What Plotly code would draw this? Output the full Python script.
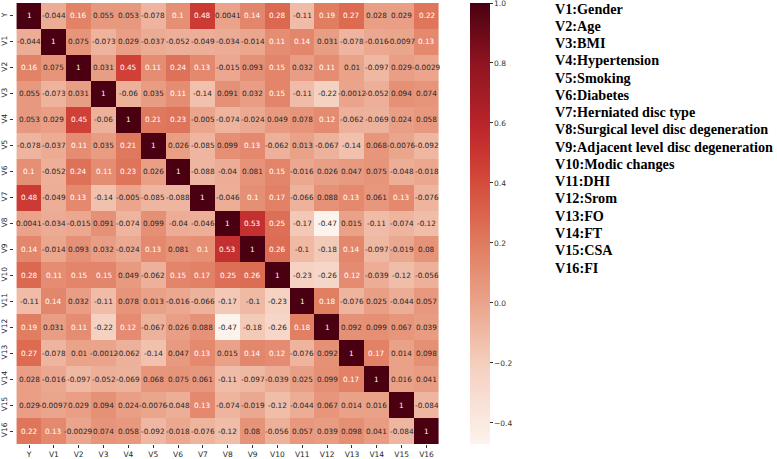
import plotly.graph_objects as go

labels = ["Y", "V1", "V2", "V3", "V4", "V5", "V6", "V7", "V8", "V9", "V10",
          "V11", "V12", "V13", "V14", "V15", "V16"]

row_Y   = [1, -0.044, 0.16, 0.055, 0.053, -0.078, 0.1, 0.48, 0.0041, 0.14, 0.28, -0.11, 0.19, 0.27, 0.028, 0.029, 0.22]
row_V1  = [-0.044, 1, 0.075, -0.073, 0.029, -0.037, -0.052, -0.049, -0.034, -0.014, 0.11, 0.14, 0.031, -0.078, -0.016, -0.0097, 0.13]
row_V2  = [0.16, 0.075, 1, 0.031, 0.45, 0.11, 0.24, 0.13, -0.015, 0.093, 0.15, 0.032, 0.11, 0.01, -0.097, 0.029, -0.0029]
row_V3  = [0.055, -0.073, 0.031, 1, -0.06, 0.035, 0.11, -0.14, 0.091, 0.032, 0.15, -0.11, -0.22, -0.0012, -0.052, 0.094, 0.074]
row_V4  = [0.053, 0.029, 0.45, -0.06, 1, 0.21, 0.23, -0.005, -0.074, -0.024, 0.049, 0.078, 0.12, -0.062, -0.069, 0.024, 0.058]
row_V5  = [-0.078, -0.037, 0.11, 0.035, 0.21, 1, 0.026, -0.085, 0.099, 0.13, -0.062, 0.013, -0.067, -0.14, 0.068, -0.0076, -0.092]
row_V6  = [0.1, -0.052, 0.24, 0.11, 0.23, 0.026, 1, -0.088, -0.04, 0.081, 0.15, -0.016, 0.026, 0.047, 0.075, -0.048, -0.018]
row_V7  = [0.48, -0.049, 0.13, -0.14, -0.005, -0.085, -0.088, 1, -0.046, 0.1, 0.17, -0.066, 0.088, 0.13, 0.061, 0.13, -0.076]
row_V8  = [0.0041, -0.034, -0.015, 0.091, -0.074, 0.099, -0.04, -0.046, 1, 0.53, 0.25, -0.17, -0.47, 0.015, -0.11, -0.074, -0.12]
row_V9  = [0.14, -0.014, 0.093, 0.032, -0.024, 0.13, 0.081, 0.1, 0.53, 1, 0.26, -0.1, -0.18, 0.14, -0.097, -0.019, 0.08]
row_V10 = [0.28, 0.11, 0.15, 0.15, 0.049, -0.062, 0.15, 0.17, 0.25, 0.26, 1, -0.23, -0.26, 0.12, -0.039, -0.12, -0.056]
row_V11 = [-0.11, 0.14, 0.032, -0.11, 0.078, 0.013, -0.016, -0.066, -0.17, -0.1, -0.23, 1, 0.18, -0.076, 0.025, -0.044, 0.057]
row_V12 = [0.19, 0.031, 0.11, -0.22, 0.12, -0.067, 0.026, 0.088, -0.47, -0.18, -0.26, 0.18, 1, 0.092, 0.099, 0.067, 0.039]
row_V13 = [0.27, -0.078, 0.01, -0.0012, -0.062, -0.14, 0.047, 0.13, 0.015, 0.14, 0.12, -0.076, 0.092, 1, 0.17, 0.014, 0.098]
row_V14 = [0.028, -0.016, -0.097, -0.052, -0.069, 0.068, 0.075, 0.061, -0.11, -0.097, -0.039, 0.025, 0.099, 0.17, 1, 0.016, 0.041]
row_V15 = [0.029, -0.0097, 0.029, 0.094, 0.024, -0.0076, -0.048, 0.13, -0.074, -0.019, -0.12, -0.044, 0.067, 0.014, 0.016, 1, -0.084]
row_V16 = [0.22, 0.13, -0.0029, 0.074, 0.058, -0.092, -0.018, -0.076, -0.12, 0.08, -0.056, 0.057, 0.039, 0.098, 0.041, -0.084, 1]

matrix = [row_Y, row_V1, row_V2, row_V3, row_V4, row_V5, row_V6, row_V7, row_V8,
          row_V9, row_V10, row_V11, row_V12, row_V13, row_V14, row_V15, row_V16]

legend_lines = ["V1:Gender", "V2:Age", "V3:BMI", "V4:Hypertension", "V5:Smoking",
                "V6:Diabetes", "V7:Herniated disc type",
                "V8:Surgical level disc degeneration",
                "V9:Adjacent level disc degeneration", "V10:Modic changes",
                "V11:DHI", "V12:Srom", "V13:FO", "V14:FT", "V15:CSA", "V16:FI"]

cbar_ticks = [-0.4, -0.2, 0.0, 0.2, 0.4, 0.6, 0.8, 1.0]

zmin, zmax = -0.47, 1.0
stops = [(-0.47, "#fdf3ed"), (-0.2, "#f4cebd"), (0.0, "#eaa48b"), (0.2, "#e07b5f"),
         (0.4, "#d44c3b"), (0.5, "#c93531"), (0.6, "#b9242a"), (0.8, "#8e1420"),
         (1.0, "#4a0010")]
colorscale = [[(v - zmin) / (zmax - zmin), c] for v, c in stops]


def fmt(v):
    return format(v, ".2g")


def fmt_tick(v):
    s = format(v, ".1f")
    return s.replace("-", "\u2212")


W, H = 777, 459
L, R, T, B = 14, 443, 3, 444
pw, ph = R - L, B - T

fig = go.Figure()
fig.add_trace(go.Heatmap(
    z=matrix, x=labels, y=labels,
    zmin=zmin, zmax=zmax, colorscale=colorscale,
    showscale=True, hoverinfo="skip",
    colorbar=dict(
        xref="container", yref="container",
        x=470 / W, xanchor="left", xpad=0, ypad=0,
        y=1 - T / H, yanchor="top", len=ph, lenmode="pixels",
        thickness=20, thicknessmode="pixels",
        outlinewidth=0,
        tickvals=[min(t, 0.9995) for t in cbar_ticks],
        ticktext=[fmt_tick(t) for t in cbar_ticks],
        ticks="outside", ticklen=3, tickcolor="#333",
        tickfont=dict(family="DejaVu Sans", size=7.5, color="#333"),
    ),
))

annotations = []
for i, rl in enumerate(labels):
    for j, cl in enumerate(labels):
        v = matrix[i][j]
        color = "white" if v >= 0.1 else "#262626"
        annotations.append(dict(
            x=cl, y=rl, xref="x", yref="y", text=fmt(v), showarrow=False,
            font=dict(family="DejaVu Sans", size=7.3, color=color)))

top_px, step_px = 8.5, 17.27
for k, line in enumerate(legend_lines):
    ypx = top_px + k * step_px
    annotations.append(dict(
        x=(553 - L) / pw, y=(B - ypx) / ph, xref="paper", yref="paper",
        xanchor="left", yanchor="middle", showarrow=False, text="<b>" + line + "</b>",
        font=dict(family="Liberation Serif", size=14.2, color="black")))

fig.update_layout(
    width=W, height=H,
    margin=dict(l=L, r=W - R, t=T, b=H - B, pad=0),
    paper_bgcolor="white", plot_bgcolor="white",
    annotations=annotations,
    xaxis=dict(tickangle=0, ticks="outside", ticklen=3, tickcolor="#333",
               tickfont=dict(family="DejaVu Sans", size=7.5, color="#262626"),
               showgrid=False, zeroline=False, automargin=False, showline=False),
    yaxis=dict(autorange="reversed", tickangle=-90, ticks="outside", ticklen=3,
               tickcolor="#333",
               tickfont=dict(family="DejaVu Sans", size=7.5, color="#262626"),
               showgrid=False, zeroline=False, automargin=False, showline=False),
)

fig.write_html("out.html", config={"displayModeBar": False},
               post_script="document.body.style.margin='0';document.body.style.padding='0';")
